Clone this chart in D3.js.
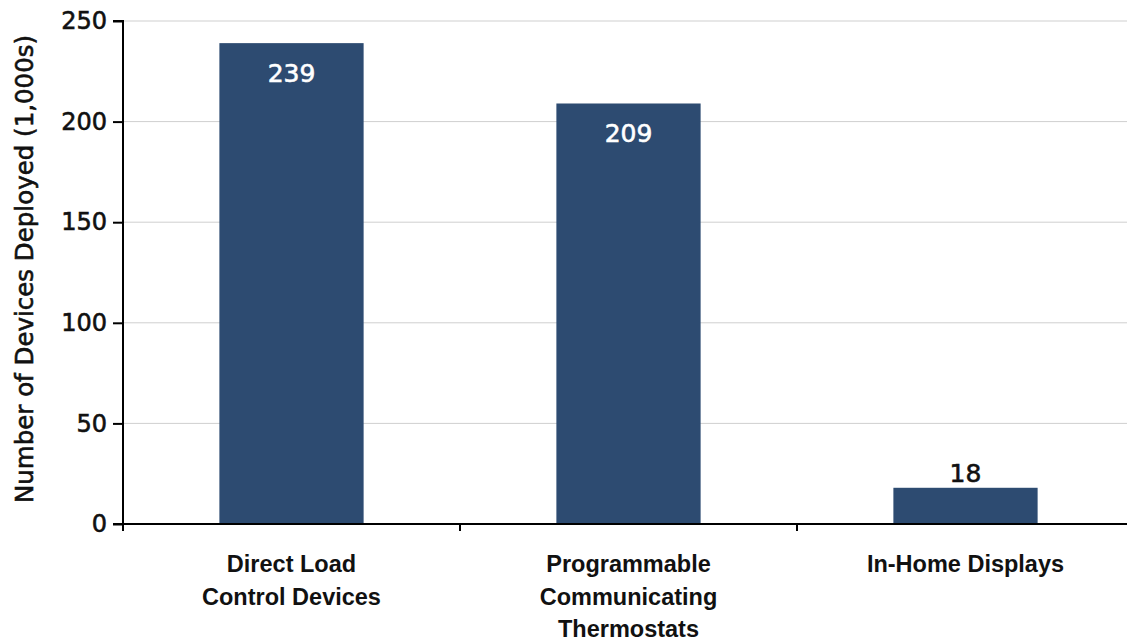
<!DOCTYPE html>
<html>
<head>
<meta charset="utf-8">
<script src="https://cdn.jsdelivr.net/npm/d3@7"></script>
<style>
  body { margin: 0; background: #fff; }
  svg { display: block; }
</style>
</head>
<body>
<svg id="chart" width="1127" height="641"></svg>
<script>
// Device deployment counts (thousands)
const categories = [
  ["Direct Load", "Control Devices"],
  ["Programmable", "Communicating", "Thermostats"],
  ["In-Home Displays"]
];
const categoryKeys = ["dlc", "pct", "ihd"];
const values = [239, 209, 18];
const yTicks = [0, 50, 100, 150, 200, 250];
const yTitle = "Number of Devices Deployed (1,000s)";

const W = 1127, H = 641;
const margin = { left: 123, right: -7, top: 21, bottom: 117 };
const svg = d3.select("#chart");

const x = d3.scaleBand()
  .domain(categoryKeys)
  .range([margin.left, W - margin.right])
  .paddingInner(0).paddingOuter(0);

const y = d3.scaleLinear()
  .domain([0, 250])
  .range([H - margin.bottom, margin.top]);

const barW = x.bandwidth() * 0.428;
const labelFont = "'DejaVu Sans', Verdana, sans-serif";

// Gridlines
svg.append("g")
  .selectAll("line")
  .data(yTicks.filter(d => d > 0))
  .join("line")
  .attr("x1", margin.left).attr("x2", W)
  .attr("y1", d => y(d)).attr("y2", d => y(d))
  .attr("stroke", "#cfcfcf").attr("stroke-width", 1);

// Bars
svg.append("g")
  .selectAll("rect")
  .data(values)
  .join("rect")
  .attr("x", (d, i) => x(categoryKeys[i]) + x.bandwidth() / 2 - barW / 2)
  .attr("width", barW)
  .attr("y", d => y(d))
  .attr("height", d => y(0) - y(d))
  .attr("fill", "#2d4b71");

// Value labels: inside tall bars (white), above short bars (black)
svg.append("g")
  .selectAll("text")
  .data(values)
  .join("text")
  .attr("x", (d, i) => x(categoryKeys[i]) + x.bandwidth() / 2)
  .attr("y", d => d > 50 ? y(d) + 39 : y(d) - 6)
  .attr("text-anchor", "middle")
  .attr("font-family", labelFont)
  .attr("font-size", 25)
  .attr("fill", d => d > 50 ? "#fff" : "#111")
  .attr("stroke", d => d > 50 ? "#fff" : "#111")
  .attr("stroke-width", 0.6)
  .text(d => d);

// Y axis
const yAxis = d3.axisLeft(y).tickValues(yTicks).tickSize(10).tickPadding(6);
const gy = svg.append("g")
  .attr("transform", `translate(${margin.left},0)`)
  .call(yAxis);
gy.select(".domain").attr("stroke", "#000").attr("stroke-width", 2)
  .attr("d", `M-10,${y(250)}H0V${y(0)}H-10`);
gy.selectAll(".tick line").attr("stroke", "#000").attr("stroke-width", 2);
gy.selectAll(".tick text")
  .attr("font-family", labelFont)
  .attr("font-size", 24)
  .attr("fill", "#111")
  .attr("stroke", "#111")
  .attr("stroke-width", 0.6);

// X axis
const xAxis = d3.axisBottom(x).tickSize(0).tickFormat("");
const gx = svg.append("g")
  .attr("transform", `translate(0,${y(0)})`)
  .call(xAxis);
gx.select(".domain").attr("stroke", "#000").attr("stroke-width", 2)
  .attr("d", `M${margin.left},0H${W}`);

// Band boundary ticks
gx.append("g")
  .selectAll("line")
  .data(categoryKeys)
  .join("line")
  .attr("x1", d => x(d)).attr("x2", d => x(d))
  .attr("y1", 0).attr("y2", 7)
  .attr("stroke", "#000").attr("stroke-width", 2);

// Category labels
const catG = svg.append("g");
categories.forEach((lines, i) => {
  const cx = x(categoryKeys[i]) + x.bandwidth() / 2;
  const t = catG.append("text")
    .attr("x", cx)
    .attr("y", 572)
    .attr("text-anchor", "middle")
    .attr("font-family", "'Liberation Sans', Arial, sans-serif")
    .attr("font-weight", "bold")
    .attr("font-size", 23.5)
    .attr("fill", "#111");
  lines.forEach((ln, j) => {
    t.append("tspan")
      .attr("x", cx)
      .attr("dy", j === 0 ? 0 : 32.5)
      .text(ln);
  });
});

// Y axis title
svg.append("text")
  .attr("transform", `translate(33,269) rotate(-90)`)
  .attr("text-anchor", "middle")
  .attr("font-family", labelFont)
  .attr("font-size", 24.5)
  .attr("fill", "#111")
  .attr("stroke", "#111")
  .attr("stroke-width", 0.6)
  .text(yTitle);
</script>
</body>
</html>
